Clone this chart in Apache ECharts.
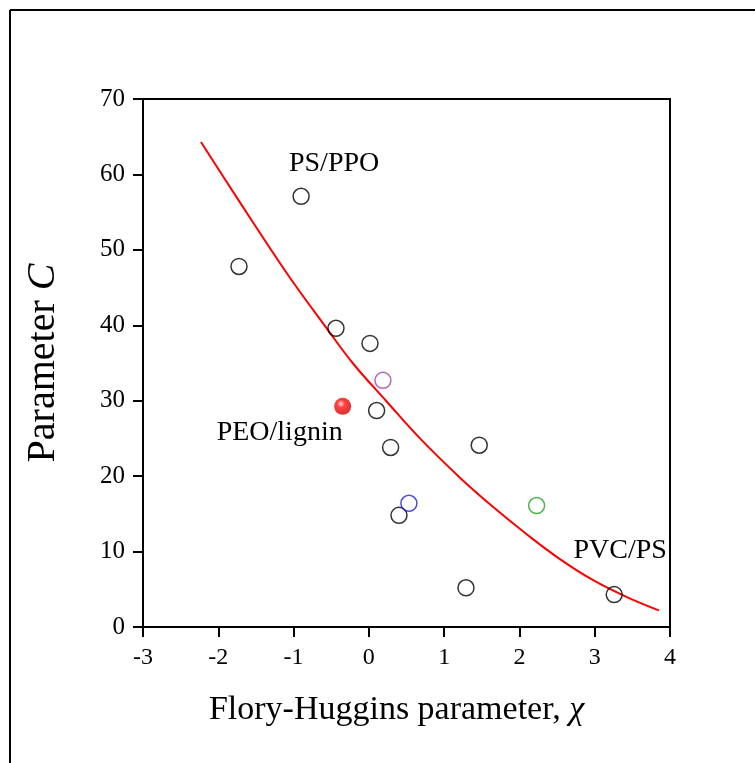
<!DOCTYPE html>
<html>
<head>
<meta charset="utf-8">
<script src="https://cdn.jsdelivr.net/npm/echarts@6/dist/echarts.min.js"></script>
<style>html,body{margin:0;padding:0;background:#fff;}#c{width:755px;height:763px;}</style>
</head>
<body>
<div id="c"></div>
<script>
// Axis ticks
const xTicks = [-3, -2, -1, 0, 1, 2, 3, 4];
const yTicks = [0, 10, 20, 30, 40, 50, 60, 70];

// Black open circles [chi, C]
const blackPoints = [
  [-0.90, 57.1],
  [-1.725, 47.8],
  [-0.437, 39.6],
  [0.015, 37.6],
  [0.103, 28.7],
  [0.289, 23.8],
  [1.466, 24.1],
  [0.40, 14.8],
  [1.29, 5.2],
  [3.259, 4.3]
];
const purplePoints = [[0.187, 32.7]];
const bluePoints = [[0.532, 16.4]];
const greenPoints = [[2.228, 16.1]];
const redPoints = [[-0.348, 29.25]];

// Fitted curve
const curveX = [-2.23, -1.933, -1.49, -1.048, -0.56, -0.207, 0.236, 0.679, 1.21, 1.652, 2.096, 2.538, 2.98, 3.42, 3.853];
const curveY = [64.3, 59.7, 52.9, 46.3, 39.6, 34.9, 29.9, 25.0, 19.8, 15.9, 12.3, 9.0, 6.2, 4.0, 2.2];

// Annotation labels
const annPS = 'PS/PPO';
const annPEO = 'PEO/lignin';
const annPVC = 'PVC/PS';

const FONT = 'Liberation Serif';
const chart = echarts.init(document.getElementById('c'), null, {renderer: 'canvas'});

function openSeries(name, data, color) {
  return {
    name, type: 'scatter', data, symbol: 'circle', symbolSize: 16, z: 5,
    itemStyle: {color: 'rgba(0,0,0,0)', borderColor: color, borderWidth: 1.5}
  };
}

const lbl = {fontFamily: FONT, fontSize: 28, color: '#000', textBorderWidth: 0, opacity: 1};

const blackData = blackPoints.map((p, i) => {
  const d = {value: p};
  if (i === 0) d.label = Object.assign({show: true, formatter: annPS, position: 'inside', offset: [33, -33]}, lbl);
  if (i === blackPoints.length - 1) d.label = Object.assign({show: true, formatter: annPVC, position: 'inside', offset: [6, -44]}, lbl);
  return d;
});
const redData = redPoints.map(p => ({value: p,
  label: Object.assign({show: true, formatter: annPEO, position: 'inside', offset: [-63, 26]}, lbl)}));

const option = {
  backgroundColor: '#fff',
  animation: false,
  grid: {left: 143, right: 85, top: 99, bottom: 136, show: true, borderColor: '#000', borderWidth: 2, backgroundColor: 'transparent'},
  xAxis: {
    type: 'value', min: -3, max: 4, interval: 1,
    name: 'Flory-Huggins parameter, {i|χ}', nameLocation: 'middle', nameGap: 66,
    nameTextStyle: {fontFamily: FONT, fontSize: 34, color: '#000', padding: [0, 20, 0, 0], rich: {i: {fontFamily: FONT, fontStyle: 'italic', fontSize: 34}}},
    axisLine: {show: true, onZero: false, lineStyle: {color: '#000', width: 2}},
    axisTick: {show: true, inside: false, length: 10, lineStyle: {color: '#000', width: 2}},
    axisLabel: {fontFamily: FONT, fontSize: 24, color: '#000', margin: 19, formatter: v => xTicks.includes(v) ? String(v) : ''},
    splitLine: {show: false}
  },
  yAxis: {
    type: 'value', min: 0, max: 70, interval: 10,
    name: 'Parameter {i|C}', nameLocation: 'middle', nameGap: 80, nameRotate: 90,
    nameTextStyle: {fontFamily: FONT, fontSize: 40, color: '#000', rich: {i: {fontFamily: FONT, fontStyle: 'italic', fontSize: 40}}},
    axisLine: {show: true, onZero: false, lineStyle: {color: '#000', width: 2}},
    axisTick: {show: true, inside: false, length: 10, lineStyle: {color: '#000', width: 2}},
    axisLabel: {fontFamily: FONT, fontSize: 25, color: '#000', margin: 18, formatter: v => yTicks.includes(v) ? String(v) : ''},
    splitLine: {show: false}
  },
  graphic: [
    {type: 'line', shape: {x1: 10, y1: 10, x2: 755, y2: 10}, style: {stroke: '#000', lineWidth: 2}},
    {type: 'line', shape: {x1: 10, y1: 10, x2: 10, y2: 763}, style: {stroke: '#000', lineWidth: 2}}
  ],
  series: [
    {
      name: 'fit', type: 'line', smooth: 0.4, symbol: 'none', z: 3,
      data: curveX.map((x, i) => [x, curveY[i]]),
      lineStyle: {color: '#ff0000', width: 2}
    },
    openSeries('black', blackData, '#000'),
    openSeries('purple', purplePoints, '#a040b0'),
    openSeries('blue', bluePoints, '#2020d0'),
    openSeries('green', greenPoints, '#20a020'),
    {
      name: 'red', type: 'scatter', data: redData, symbol: 'circle', symbolSize: 17, z: 6,
      itemStyle: {color: {type: 'radial', x: 0.4, y: 0.35, r: 0.65, colorStops: [
        {offset: 0, color: '#ffd0d0'}, {offset: 0.35, color: '#ff1010'}, {offset: 1, color: '#d00000'}]}}
    }
  ]
};
chart.setOption(option);
</script>
</body>
</html>
